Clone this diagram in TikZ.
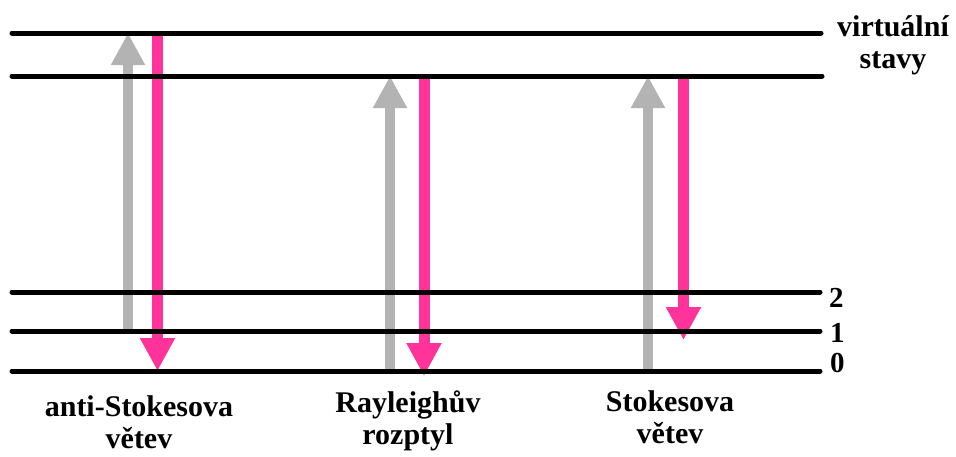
\documentclass[tikz,border=0pt]{standalone}
\usepackage{fontspec}
\setmainfont{Liberation Serif}
\usetikzlibrary{arrows.meta}
\definecolor{photon}{HTML}{B3B3B3}
\definecolor{scatter}{HTML}{FF3399}

\begin{document}
\begin{tikzpicture}[x=1pt, y=-1pt,
  level/.style={line width=5pt, line cap=round},
  absorb/.style={draw=photon, line width=10pt, -{Triangle[length=32pt, width=32pt]}},
  emit/.style={draw=scatter, line width=11pt, -{Triangle[length=33pt, width=33pt]}},
  lab/.style={font=\fontsize{30}{32}\selectfont\bfseries, align=center, inner sep=0pt},
  num/.style={font=\fontsize{29}{32}\selectfont\bfseries, inner sep=0pt, anchor=base west}]
\useasboundingbox (0,0) rectangle (956,456);

% columns of the transitions
\coordinate (asUp) at (128,0);
\coordinate (asDn) at (157.5,0);
\coordinate (ryUp) at (390,0);
\coordinate (ryDn) at (424,0);
\coordinate (stUp) at (648,0);
\coordinate (stDn) at (683.5,0);

% level heights
\coordinate (v2) at (12,33);
\coordinate (v1) at (12,76);
\coordinate (n2) at (12,292);
\coordinate (n1) at (12,331);
\coordinate (n0) at (12,371);

% excitation and emission
\draw[absorb] (asUp |- n1) -- (asUp |- v2);
\draw[emit] (asDn |- v2) -- (asDn |- n0);
\draw[absorb] (ryUp |- n0) -- (ryUp |- v1);
\draw[emit] (ryDn |- v1) -- ([yshift=-5pt]ryDn |- n0);
\draw[absorb] (stUp |- n0) -- (stUp |- v1);
\draw[emit] (stDn |- v1) -- ([yshift=-9pt]stDn |- n1);

% energy levels
\draw[level] (v2) -- ++(809,0) coordinate (v2e);
\draw[level] (v1) -- ++(810,0) coordinate (v1e);
\draw[level] (n2) -- ++(808,0) coordinate (n2e);
\draw[level] (n1) -- ++(808,0) coordinate (n1e);
\draw[level] (n0) -- ++(808,0) coordinate (n0e);

\node[lab, anchor=base] (virt) at (893,68) {virtuální\\stavy};
\node[num] (q2) at (829,307) {2};
\node[num] (q1) at (830,342) {1};
\node[num] (q0) at (830,372) {0};

\node[lab, anchor=base] (anti) at (139,448) {anti-Stokesova\\větev};
\node[lab, anchor=base] (rayl) at (408,444) {Rayleighův\\rozptyl};
\node[lab, anchor=base] (stok) at (670,443) {Stokesova\\větev};
\end{tikzpicture}
\end{document}
